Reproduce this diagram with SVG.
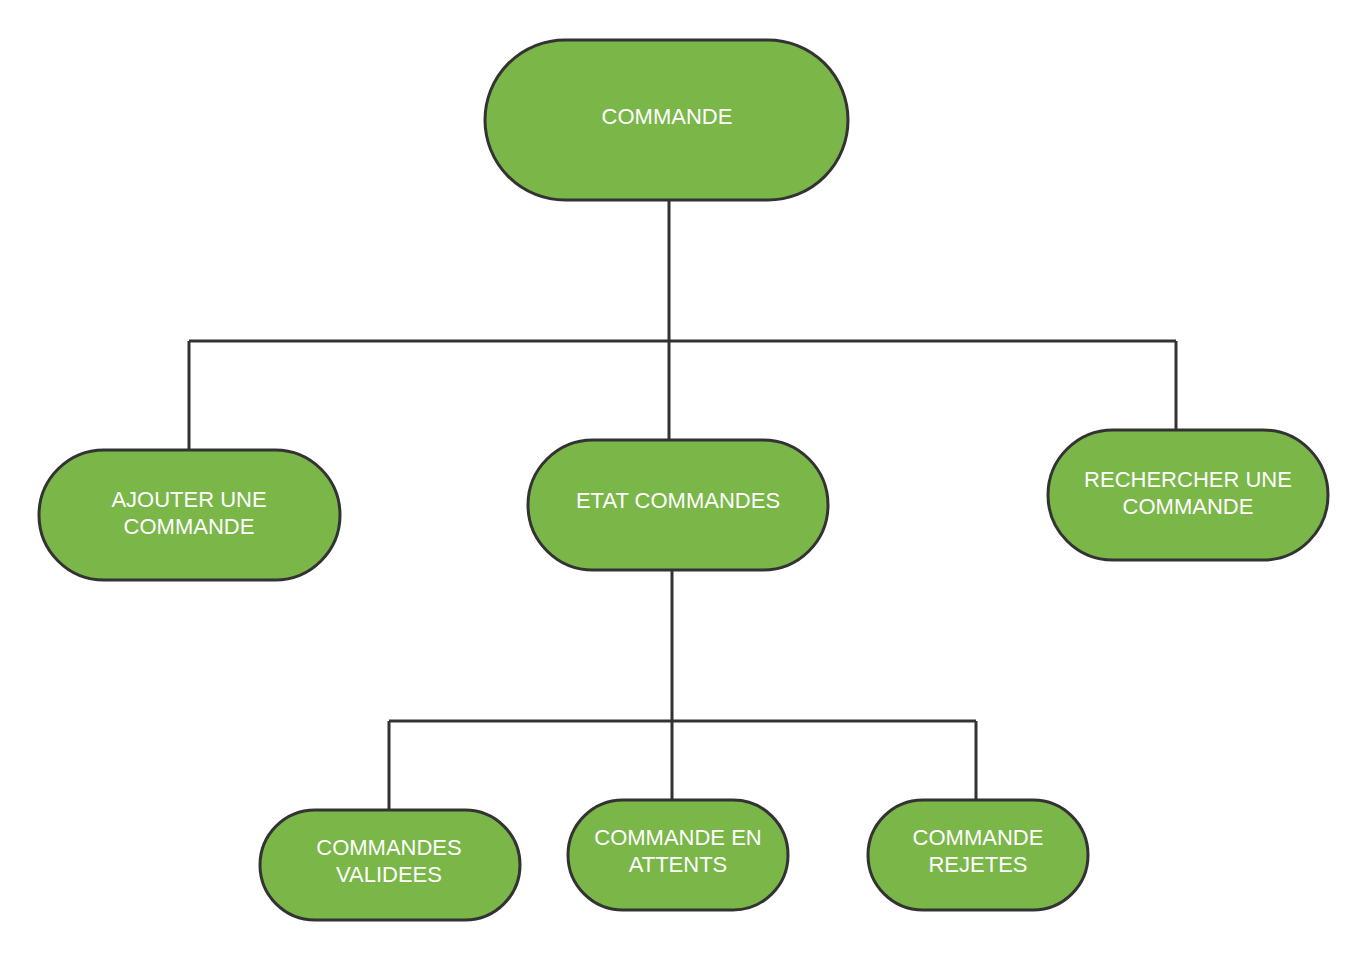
<svg xmlns="http://www.w3.org/2000/svg" width="1369" height="960" viewBox="0 0 1369 960">
<style>
.n{fill:#7ab648;stroke:#333333;stroke-width:3}
.t{fill:#ffffff;font-family:"Liberation Sans",Arial,sans-serif;font-size:22px;text-anchor:middle}
.c{fill:none;stroke:#333333;stroke-width:3}
</style>
<rect width="1369" height="960" fill="#ffffff"/>
<g id="connectors">
<path class="c" d="M669 200V440M189 341H1176M189 341V450M1176 341V430"/>
<path class="c" d="M672 570V800M389 721H976M389 721V810M976 721V800"/>
</g>
<g id="commande"><rect class="n" x="485" y="40" width="363" height="160" rx="80"/><text class="t" x="667" y="124">COMMANDE</text></g>
<g id="ajouter"><rect class="n" x="39" y="450" width="301" height="130" rx="65"/><text class="t" x="189" y="507">AJOUTER UNE</text><text class="t" x="189" y="534">COMMANDE</text></g>
<g id="etat"><rect class="n" x="528" y="440" width="300" height="130" rx="65"/><text class="t" x="678" y="508">ETAT COMMANDES</text></g>
<g id="rechercher"><rect class="n" x="1048" y="430" width="280" height="130" rx="65"/><text class="t" x="1188" y="487">RECHERCHER UNE</text><text class="t" x="1188" y="514">COMMANDE</text></g>
<g id="validees"><rect class="n" x="260" y="810" width="260" height="110" rx="55"/><text class="t" x="389" y="855">COMMANDES</text><text class="t" x="389" y="882">VALIDEES</text></g>
<g id="attents"><rect class="n" x="568" y="800" width="220" height="110" rx="55"/><text class="t" x="678" y="845">COMMANDE EN</text><text class="t" x="678" y="872">ATTENTS</text></g>
<g id="rejetes"><rect class="n" x="868" y="800" width="220" height="110" rx="55"/><text class="t" x="978" y="845">COMMANDE</text><text class="t" x="978" y="872">REJETES</text></g>
</svg>
